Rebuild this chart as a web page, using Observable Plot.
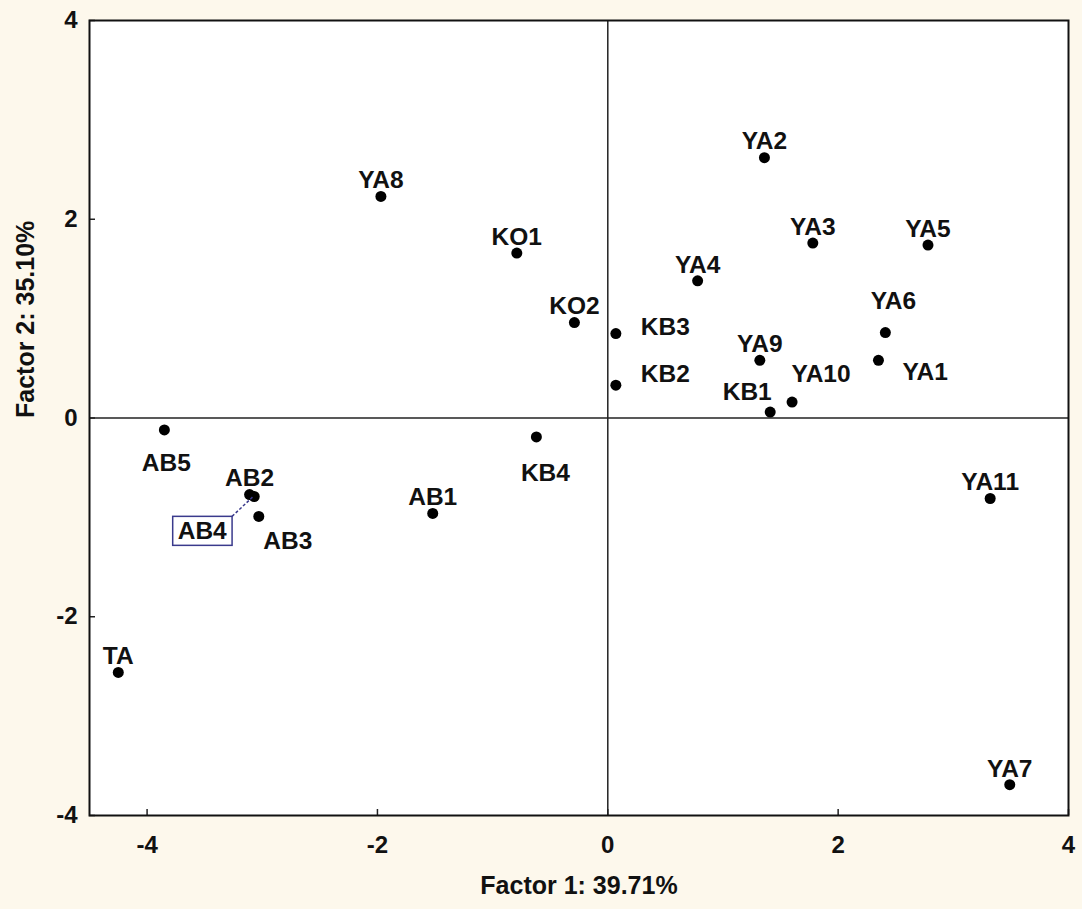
<!DOCTYPE html>
<html>
<head>
<meta charset="utf-8">
<script src="https://cdn.jsdelivr.net/npm/d3@7"></script>
<script src="https://cdn.jsdelivr.net/npm/@observablehq/plot@0.6"></script>
<style>
  html, body { margin: 0; padding: 0; background: #fdf8ec; }
</style>
</head>
<body>
<div id="chart"></div>
<script>
// ---- Data ----
const labels  = ["YA8","KO1","KO2","KB3","KB2","KB4","YA2","YA3","YA5","YA4","YA6","YA9","YA1","YA10","KB1","YA11","YA7","AB5","AB2","AB4","AB3","AB1","TA"];
const factor1 = [-1.97,-0.79,-0.29,0.07,0.07,-0.62,1.36,1.78,2.78,0.78,2.41,1.32,2.35,1.60,1.41,3.32,3.49,-3.85,-3.11,-3.07,-3.03,-1.52,-4.25];
const factor2 = [2.23,1.66,0.96,0.85,0.33,-0.19,2.62,1.76,1.74,1.38,0.86,0.58,0.58,0.16,0.06,-0.81,-3.69,-0.12,-0.77,-0.79,-0.99,-0.96,-2.56];
const labelPos = ["N","N","N","E","E_up","S_r","N","N","N","N","NN","N","E_down","NE","NW","N","N","S","N","BOX","SE","N","N"];
const xTicks = [-4, -2, 0, 2, 4];
const yTicks = [-4, -2, 0, 2, 4];
const xTitle = "Factor 1: 39.71%";
const yTitle = "Factor 2: 35.10%";

const points = labels.map((name, i) => ({name, x: factor1[i], y: factor2[i], pos: labelPos[i]}));

// label placement codes -> offsets
const placements = {
  N:      {dx: 0,   dy: -16, anchor: "middle"},
  NN:     {dx: 8,   dy: -31, anchor: "middle"},
  NE:     {dx: 29,  dy: -28, anchor: "middle"},
  NW:     {dx: -23, dy: -20, anchor: "middle"},
  S:      {dx: 2,   dy: 33,  anchor: "middle"},
  S_r:    {dx: 9,   dy: 36,  anchor: "middle"},
  SE:     {dx: 29,  dy: 25,  anchor: "middle"},
  E:      {dx: 25,  dy: -6,  anchor: "start"},
  E_up:   {dx: 25,  dy: -11, anchor: "start"},
  E_down: {dx: 24,  dy: 12,  anchor: "start"},
  BOX:    {dx: -52, dy: 35,  anchor: "middle"}
};

const W = 1082, H = 909;
const mL = 89, mR = 14, mT = 20, mB = 94;
const innerW = W - mL - mR, innerH = H - mT - mB;
const font = "'Liberation Sans', Arial, sans-serif";

const labelMarks = Object.entries(placements).map(([code, p]) =>
  Plot.text(points.filter(d => d.pos === code), {
    x: "x", y: "y", text: "name",
    dx: p.dx, dy: p.dy, textAnchor: p.anchor, lineAnchor: "middle",
    fontSize: 24.5, fontWeight: "bold", fill: "#111",
    className: code === "BOX" ? "boxed-label" : undefined
  })
);

const plot = Plot.plot({
  width: W, height: H,
  marginLeft: mL, marginRight: mR, marginTop: mT, marginBottom: mB,
  style: {background: "#fdf8ec", fontFamily: font, fontWeight: "bold", color: "#111"},
  x: {domain: [-4.5, 4]},
  y: {domain: [-4, 4]},
  marks: [
    Plot.frame({fill: "white", stroke: "none"}),
    Plot.ruleX([0], {stroke: "#222", strokeWidth: 1.5}),
    Plot.ruleY([0], {stroke: "#222", strokeWidth: 1.5}),
    // inward tick marks
    Plot.ruleX(xTicks, {stroke: "#222", strokeWidth: 1.5, insetTop: innerH - 6}),
    Plot.ruleY(yTicks, {stroke: "#222", strokeWidth: 1.5, insetRight: innerW - 6}),
    Plot.axisX({ticks: xTicks, tickSize: 0, tickPadding: 20, tickFormat: d => String(d), fontSize: 24, fontWeight: "bold", label: null}),
    Plot.axisY({ticks: yTicks, tickSize: 0, tickPadding: 12, tickFormat: d => String(d), fontSize: 24, fontWeight: "bold", label: null}),
    Plot.text([xTitle], {frameAnchor: "bottom", dy: 70, fontSize: 25, fontWeight: "bold", lineAnchor: "middle", fill: "#111"}),
    Plot.text([yTitle], {frameAnchor: "left", dx: -64, rotate: -90, fontSize: 25, fontWeight: "bold", lineAnchor: "middle", fill: "#111"}),
    Plot.dot(points, {x: "x", y: "y", r: 5.5, fill: "#000", stroke: "none"}),
    ...labelMarks,
    Plot.frame({stroke: "#111", strokeWidth: 2})
  ]
});

document.getElementById("chart").appendChild(plot);

// Box and dashed leader for the displaced label
(function () {
  const svg = plot;
  const t = svg.querySelector(".boxed-label text");
  if (!t) return;
  const sr = svg.getBoundingClientRect();
  const br = t.getBoundingClientRect();
  const padX = 5, padY = 1;
  const x0 = br.left - sr.left - padX, y0 = br.top - sr.top - padY;
  const w = br.width + 2 * padX, h = br.height + 2 * padY;
  const ns = "http://www.w3.org/2000/svg";
  const rect = document.createElementNS(ns, "rect");
  rect.setAttribute("x", x0); rect.setAttribute("y", y0);
  rect.setAttribute("width", w); rect.setAttribute("height", h);
  rect.setAttribute("fill", "none"); rect.setAttribute("stroke", "#3a3a8c"); rect.setAttribute("stroke-width", 1.5);
  svg.appendChild(rect);
  const d = points.find(p => p.pos === "BOX");
  const px = plot.scale("x").apply(d.x), py = plot.scale("y").apply(d.y);
  const line = document.createElementNS(ns, "line");
  line.setAttribute("x1", x0 + w); line.setAttribute("y1", y0);
  line.setAttribute("x2", px); line.setAttribute("y2", py);
  line.setAttribute("stroke", "#3a3a8c"); line.setAttribute("stroke-width", 1.5);
  line.setAttribute("stroke-dasharray", "3,2");
  svg.appendChild(line);
})();
</script>
</body>
</html>
